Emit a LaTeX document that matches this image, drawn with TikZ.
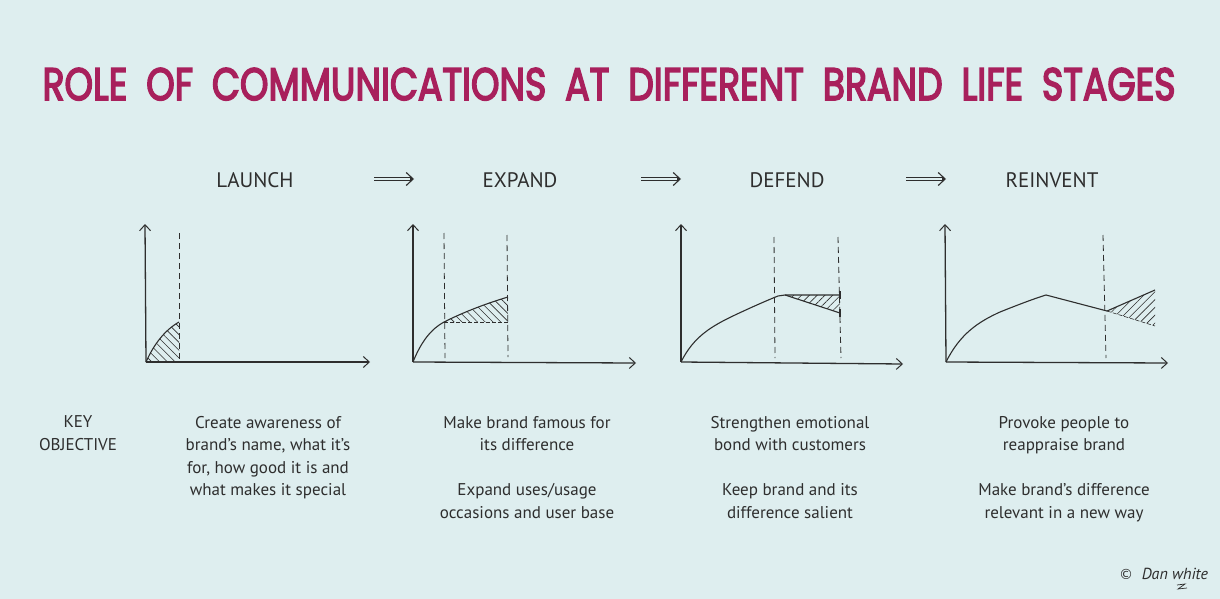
\documentclass[tikz,border=0pt]{standalone}
\usepackage{fontspec}
\setmainfont{PT Sans}
\newfontfamily\titlefont{Poppins}[FakeBold=4]
\newfontfamily\symfont{DejaVu Sans}
\usetikzlibrary{arrows.meta,patterns.meta}
\definecolor{bg}{HTML}{DEEEEF}
\definecolor{ttl}{HTML}{A8205C}
\definecolor{ink}{HTML}{2E2E2E}
\begin{document}
\begin{tikzpicture}[x=1pt,y=-1pt,
  axis/.style={draw=ink,line width=1.3pt,-{Straight Barb[length=6pt,width=11pt,line width=1pt]}},
  curve/.style={draw=ink,line width=1.1pt},
  guide/.style={draw=ink,line width=0.8pt,dash pattern=on 6pt off 4pt},
  fine/.style={draw=ink,line width=0.6pt,dash pattern=on 4pt off 2pt},
  hatchA/.style={pattern={Lines[angle=-45,distance=5.5pt,line width=0.6pt]},pattern color=ink},
  hatchB/.style={pattern={Lines[angle=45,distance=5.5pt,line width=0.6pt]},pattern color=ink},
  stage/.style={font=\fontsize{21}{24}\selectfont,text=ink,anchor=base,inner sep=0pt},
  body/.style={font=\fontsize{17}{22.5}\selectfont,text=ink,align=center,anchor=base,inner sep=0pt},
  shaft/.style={draw=ink,line width=1.1pt},
  tip/.style={draw=ink,line width=1.1pt,-{Straight Barb[length=7pt,width=13pt,line width=1.1pt]}}]
\fill[bg] (0,0) rectangle (1220,599);
\useasboundingbox (0,0) rectangle (1220,599);

% title
\node[anchor=base,inner sep=0pt,text=ttl] (title) at (609,100) {\resizebox{1133pt}{32pt}{\titlefont\spaceskip=0.52em plus 0pt\relax ROLE OF COMMUNICATIONS AT DIFFERENT BRAND LIFE STAGES}};

% stages
\node[stage] (launch) at (255,187) {LAUNCH};
\node[stage] (expand) at (520,187) {EXPAND};
\node[stage] (defend) at (787,187) {DEFEND};
\node[stage] (reinvent) at (1052,187) {REINVENT};
\coordinate (f1a) at (374,179); \coordinate (f1b) at (414,179);
\coordinate (f2a) at (641,179); \coordinate (f2b) at (681,179);
\coordinate (f3a) at (906,179); \coordinate (f3b) at (946,179);
\foreach \a/\b in {f1a/f1b,f2a/f2b,f3a/f3b}{
  \draw[shaft] ([yshift=-1.8pt]\a) -- ([yshift=-1.8pt,xshift=-3pt]\b);
  \draw[shaft] ([yshift=1.8pt]\a) -- ([yshift=1.8pt,xshift=-3pt]\b);
  \draw[tip] ([xshift=-4pt]\b) -- (\b);
}

% ---- chart 1
\coordinate (o1) at (146,362);
\coordinate (c1) at (179,322);
\fill[hatchA] (o1) .. controls (154,344) and (165,330) .. (c1) -- (179,362) -- cycle;
\draw[guide] (179,233) -- (179,360);
\draw[curve] (o1) .. controls (154,344) and (165,330) .. (c1);
\draw[axis] (o1) -- (145,224);
\draw[axis] (o1) -- (370,362);

% ---- chart 2
\coordinate (o2) at (413,362);
\coordinate (c2a) at (444,322);
\coordinate (c2b) at (508,297);
\fill[hatchA] (c2a) .. controls (466,311) and (488,303) .. (c2b) -- (508,322) -- cycle;
\draw[guide] (444,233) -- (445,358);
\draw[guide] (507,235) -- (508,357);
\draw[fine] (c2a) -- (508,322);
\draw[curve] (o2) .. controls (421,342) and (431,329) .. (c2a) .. controls (466,311) and (488,303) .. (c2b);
\draw[axis] (o2) -- (413,224);
\draw[axis] (o2) -- (636,363);

% ---- chart 3
\coordinate (o3) at (681,362);
\coordinate (p3) at (785,295);
\coordinate (e3a) at (840,295);
\coordinate (e3b) at (840,313);
\fill[hatchB] (p3) -- (e3a) -- (e3b) -- cycle;
\draw[guide] (774,237) -- (775,358);
\draw[guide] (838,237) -- (841,358);
\draw[curve] (o3) .. controls (694,336) and (712,326) .. (735,315) .. controls (752,307) and (768,300) .. (778,296) -- (p3) -- (e3a);
\draw[curve] (p3) -- (e3b);
\draw[curve] (840,291) -- (840,299);
\draw[curve] (840,309) -- (840,317);
\draw[axis] (o3) -- (681,224);
\draw[axis] (o3) -- (903,364);

% ---- chart 4
\coordinate (o4) at (946,362);
\coordinate (p4) at (1046,295);
\coordinate (d4) at (1107,311);
\coordinate (u4) at (1155,290);
\coordinate (l4) at (1155,326);
\fill[hatchB] (d4) -- (u4) -- (l4) -- cycle;
\draw[guide] (1103,235) -- (1106,358);
\draw[fine] (d4) -- (l4);
\draw[curve] (o4) .. controls (960,334) and (978,322) .. (1000,312) .. controls (1020,304) and (1036,298) .. (p4) -- (d4) -- (u4);
\draw[axis] (o4) -- (945,224);
\draw[axis] (o4) -- (1168,363);

% ---- texts (anchor base = last line)
\node[body] (key) at (78,450) {KEY\\OBJECTIVE};
\node[body] (t1) at (268,495.5) {Create awareness of\\brand's name, what it's\\for, how good it is and\\what makes it special};
\node[body] (t2) at (527,518) {Make brand famous for\\its difference\\[22.5pt]Expand uses/usage\\occasions and user base};
\node[body] (t3) at (790,518) {Strengthen emotional\\bond with customers\\[22.5pt]Keep brand and its\\difference salient};
\node[body] (t4) at (1064,518) {Provoke people to\\reappraise brand\\[22.5pt]Make brand's difference\\relevant in a new way};

% signature
\node[anchor=base west,inner sep=0pt,text=ink,font=\fontsize{16}{18}\selectfont] (sig) at (1119,579) {{\symfont\fontsize{14}{16}\selectfont ©}\ \ \textit{Dan white}};
\draw[ink,line width=0.7pt] (1177,585) -- (1185,584) -- (1178,589) -- (1187,588);
\end{tikzpicture}
\end{document}
